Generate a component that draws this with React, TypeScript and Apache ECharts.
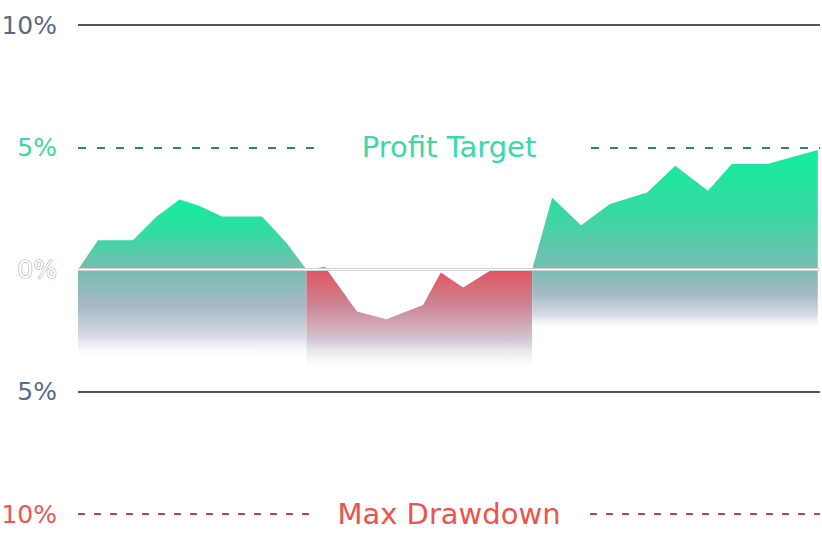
import { useEffect, useRef } from "react";
import * as echarts from "echarts";

// horizontal guide levels (in %) and the text printed next to them
const levelValues = [10, 5, 0, -5, -10];
const levelLabels = ["10%", "5%", "0%", "5%", "10%"];
const targetLabel = "Profit Target";
const drawdownLabel = "Max Drawdown";

// equity curve, step (0-100) vs. return in %
const profitX1 = [0, 2.7, 7.4, 10.6, 13.7, 16.4, 19.4, 24.8, 28.2, 30.8];
const profitY1 = [0, 1.2, 1.2, 2.17, 2.86, 2.6, 2.17, 2.17, 1.05, 0];

const drawdownX = [30.8, 33.3, 37.6, 41.6, 46.5, 48.9, 51.9, 55.8, 61.2];
const drawdownY = [0, 0.1, -1.72, -2.03, -1.45, -0.12, -0.74, 0, 0];

const profitX2 = [61.2, 63.9, 67.8, 71.7, 76.7, 80.5, 84.9, 88.1, 92.9, 99.7];
const profitY2 = [0, 2.93, 1.81, 2.68, 3.15, 4.24, 3.22, 4.31, 4.31, 4.89];

const FONT = "DejaVu Sans";

const zip = (xs: number[], ys: number[]) => xs.map((x, i) => [x, ys[i]]);

const greenFill = (ys: number[], origin: number) => {
  const top = Math.max(...ys);
  const z = top / (top - origin);
  return new echarts.graphic.LinearGradient(0, 0, 0, 1, [
    { offset: 0, color: "#10ef9a" },
    { offset: z * 0.5, color: "#35d9a3" },
    { offset: z, color: "#78bdb0" },
    { offset: z + (1 - z) * 0.4, color: "#a6b9c4" },
    { offset: z + (1 - z) * 0.75, color: "#d7dce4" },
    { offset: 1, color: "rgba(255,255,255,0)" },
  ]);
};

const redFill = () =>
  new echarts.graphic.LinearGradient(0, 0, 0, 1, [
    { offset: 0, color: "#e4515b" },
    { offset: 0.35, color: "#cc8290" },
    { offset: 0.7, color: "#d3c8d4" },
    { offset: 1, color: "rgba(255,255,255,0)" },
  ]);

const areaSeries = (name: string, xs: number[], ys: number[], origin: number, color: any) => ({
  name,
  type: "line",
  data: zip(xs, ys),
  symbol: "none",
  showSymbol: false,
  lineStyle: { width: 0 },
  areaStyle: { origin, color, opacity: 1 },
});

const labelColors = ["#5c6a85", "#3dd7a6", "#ffffff", "#5b6b88", "#f0564e"];

export default function App() {
  const chartRef = useRef<HTMLDivElement>(null);

  useEffect(() => {
    if (!chartRef.current) return;
    const chart = echarts.init(chartRef.current, null, { renderer: "svg" });

    const rich: Record<string, any> = {};
    levelLabels.forEach((_, i) => {
      rich["s" + i] = {
        fontFamily: FONT,
        fontSize: 25,
        color: labelColors[i],
        ...(i === 2 ? { textBorderColor: "#9c9c9c", textBorderWidth: 1 } : {}),
      };
    });

    const option = {
      animation: false,
      backgroundColor: "#ffffff",
      grid: {
        left: 78,
        right: 2,
        top: 25,
        bottom: 24,
        containLabel: false,
        outerBoundsMode: "none",
      },
      xAxis: { type: "value", min: 0, max: 100, show: false },
      yAxis: {
        type: "value",
        min: -10,
        max: 10,
        interval: 5,
        axisLine: { show: false },
        axisTick: { show: false },
        splitLine: { show: false },
        axisLabel: {
          margin: 21,
          formatter: (v: number) => {
            const i = levelValues.indexOf(v);
            return i < 0 ? "" : `{s${i}|${levelLabels[i]}}`;
          },
          rich,
        },
      },
      series: [
        areaSeries("profit1", profitX1, profitY1, -3.7, greenFill(profitY1, -3.7)),
        areaSeries("drawdown", drawdownX, drawdownY, -4.2, redFill()),
        {
          ...areaSeries("profit2", profitX2, profitY2, -2.5, greenFill(profitY2, -2.5)),
          markLine: {
            silent: true,
            symbol: ["none", "none"],
            label: { show: false },
            data: [
              { yAxis: levelValues[0], lineStyle: { color: "#4b5468", width: 2, type: "solid" } },
              {
                yAxis: levelValues[1],
                lineStyle: { color: "#2f7f95", width: 2, type: [8, 11] },
                label: {
                  show: true,
                  position: "middle",
                  distance: 0,
                  verticalAlign: "middle",
                  formatter: targetLabel,
                  fontFamily: FONT,
                  fontSize: 29,
                  color: "#3ad9a8",
                  backgroundColor: "#ffffff",
                  padding: [2, 46],
                },
              },
              { yAxis: levelValues[2], lineStyle: { color: "#d2d2d2", width: 3, type: "solid" } },
              { yAxis: levelValues[2], lineStyle: { color: "#ffffff", width: 1, type: "solid" } },
              { yAxis: levelValues[3], lineStyle: { color: "#4b5468", width: 2, type: "solid" } },
              {
                yAxis: levelValues[4],
                lineStyle: { color: "#bb4b4b", width: 2, type: [7, 9] },
                label: {
                  show: true,
                  position: "middle",
                  distance: 0,
                  verticalAlign: "middle",
                  formatter: drawdownLabel,
                  fontFamily: FONT,
                  fontSize: 29,
                  color: "#f0524c",
                  backgroundColor: "#ffffff",
                  padding: [2, 24],
                },
              },
            ],
          },
        },
      ],
    };

    chart.setOption(option);
    return () => chart.dispose();
  }, []);

  return (
    <div
      ref={chartRef}
      style={{ position: "fixed", left: 0, top: 0, width: 822, height: 538 }}
    />
  );
}
